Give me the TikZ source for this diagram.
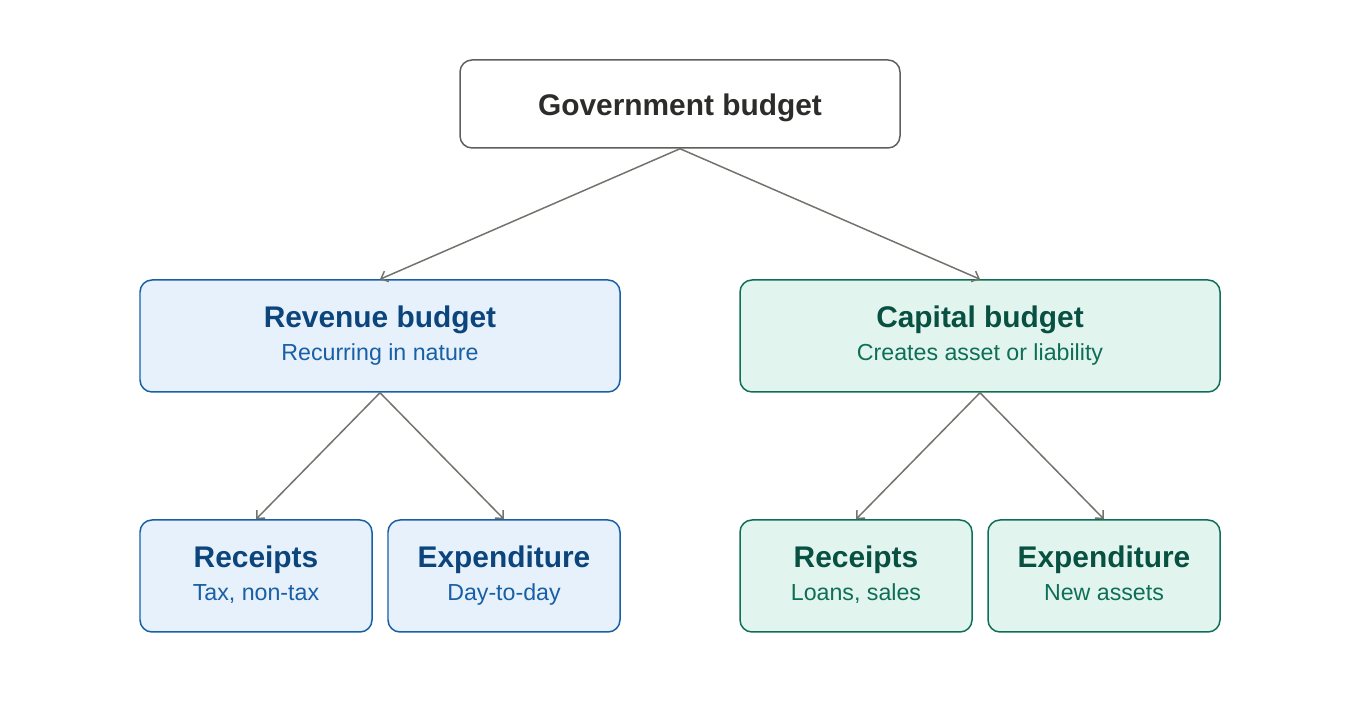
\documentclass[tikz,border=0pt]{standalone}
\usepackage{fontspec}
\setmainfont{Liberation Sans}
\usetikzlibrary{arrows.meta,positioning}

\definecolor{gline}{HTML}{73726C}
\definecolor{gborder}{HTML}{5F5E5A}
\definecolor{gtext}{HTML}{2C2C2A}
\definecolor{revfill}{HTML}{E6F1FB}
\definecolor{revborder}{HTML}{185FA5}
\definecolor{revtitle}{HTML}{0C447C}
\definecolor{capfill}{HTML}{E1F5EE}
\definecolor{capborder}{HTML}{0F6E56}
\definecolor{captitle}{HTML}{085041}

\newcommand{\ttl}[1]{{\fontsize{17}{19}\selectfont\bfseries\rule{0pt}{14.7pt}#1}}
\newcommand{\sub}[1]{\strut #1}

\begin{document}
\begin{tikzpicture}[>={Straight Barb[length=3.5pt,width=6.5pt]},
    every node/.style={align=center,inner sep=0pt,rounded corners=0.24cm,line width=0.85pt,
        font=\fontsize{13.2}{19}\selectfont},
    box/.style={draw=gborder,fill=white,text=gtext,minimum width=8.8cm,minimum height=1.76cm},
    revbox/.style={draw=revborder,fill=revfill,text=revborder,minimum height=2.24cm},
    capbox/.style={draw=capborder,fill=capfill,text=capborder,minimum height=2.24cm},
    link/.style={draw=gline,line width=0.85pt,->}]

    \useasboundingbox (0,0) rectangle (27.2,14.24);

    \node[box] (gov) at (13.6,12.16) {\ttl{\rule{0pt}{16.2pt}Government budget}};

    \node[revbox,minimum width=9.6cm] (rev) at (7.6,7.52) {\ttl{\color{revtitle}Revenue budget}\\\sub{Recurring in nature}};
    \node[capbox,minimum width=9.6cm] (cap) at (19.6,7.52) {\ttl{\color{captitle}Capital budget}\\\sub{Creates asset or liability}};

    \node[revbox,minimum width=4.64cm] (rrec) at (5.12,2.72) {\ttl{\color{revtitle}Receipts}\\\sub{Tax, non-tax}};
    \node[revbox,minimum width=4.64cm,right=0.29cm of rrec] (rexp) {\ttl{\color{revtitle}Expenditure}\\\sub{Day-to-day}};
    \node[capbox,minimum width=4.64cm] (crec) at (17.12,2.72) {\ttl{\color{captitle}Receipts}\\\sub{Loans, sales}};
    \node[capbox,minimum width=4.64cm,right=0.29cm of crec] (cexp) {\ttl{\color{captitle}Expenditure}\\\sub{New assets}};

    \draw[link] (gov.south) -- (rev.north);
    \draw[link] (gov.south) -- (cap.north);
    \draw[link] (rev.south) -- (rrec.north);
    \draw[link] (rev.south) -- (rexp.north);
    \draw[link] (cap.south) -- (crec.north);
    \draw[link] (cap.south) -- (cexp.north);

\end{tikzpicture}
\end{document}
